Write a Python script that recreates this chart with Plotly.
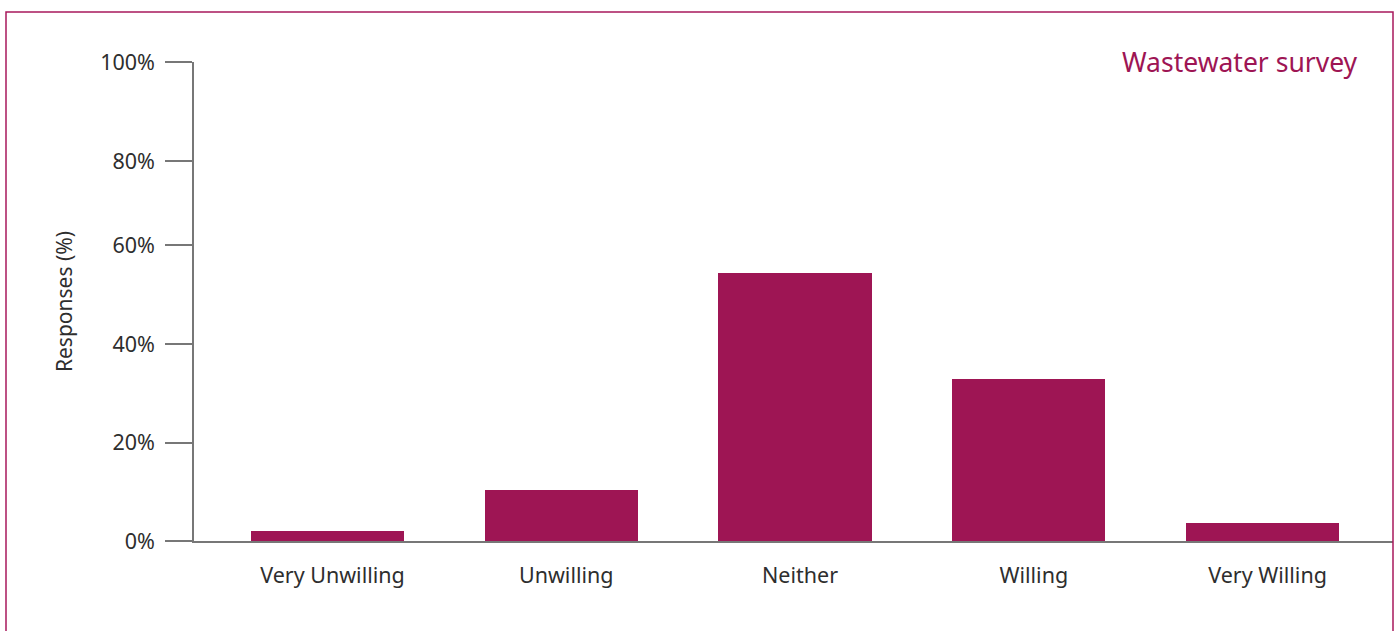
import plotly.graph_objects as go

categories = ["Very Unwilling", "Unwilling", "Neither", "Willing", "Very Willing"]
responses = [2.0, 10.6, 55.9, 33.8, 3.7]
tick_labels = ["0%", "20%", "40%", "60%", "80%", "100%"]
tick_positions = [0, 20.55, 41.13, 61.8, 79.33, 100]

BAR_COLOR = "#9e1554"
TEXT_COLOR = "#2e2e2e"
AXIS_COLOR = "#777777"
FONT = "Noto Sans, Open Sans, sans-serif"

fig = go.Figure()
fig.add_trace(go.Bar(
    x=categories, y=responses, marker_color=BAR_COLOR, width=0.655,
    marker_line_width=0, hoverinfo="x+y",
))

fig.update_layout(
    width=1397, height=631, autosize=False,
    margin=dict(l=194, r=4, t=62, b=90, pad=0),
    paper_bgcolor="white", plot_bgcolor="white",
    font=dict(family=FONT, color=TEXT_COLOR, size=21),
    showlegend=False,
    bargap=0,
)
fig.update_xaxes(
    type="category", range=[-0.571, 4.558],
    showline=True, linecolor=AXIS_COLOR, linewidth=1.5,
    showgrid=False, zeroline=False, ticks="",
    tickfont=dict(size=21.5, color=TEXT_COLOR, family=FONT),
    ticklabelstandoff=14, ticklabelshift=5,
)
fig.update_yaxes(
    range=[0, 100], tickvals=tick_positions, ticktext=tick_labels,
    showline=True, linecolor=AXIS_COLOR, linewidth=1.5,
    ticks="outside", ticklen=27, tickwidth=1.5, tickcolor=AXIS_COLOR,
    showgrid=False, zeroline=False,
    tickfont=dict(size=21.5, color=TEXT_COLOR, family=FONT),
    ticklabelstandoff=6,
    title=dict(text="Responses (%)", font=dict(size=21, color=TEXT_COLOR, family=FONT), standoff=22),
)
fig.add_annotation(
    text="Wastewater survey", xref="paper", yref="paper",
    x=(1360 - 194) / (1397 - 194 - 4), y=1.0, xanchor="right", yanchor="middle",
    showarrow=False, font=dict(size=26.5, color=BAR_COLOR, family=FONT),
)
fig.add_shape(
    type="rect", xref="paper", yref="paper",
    x0=(6 - 194) / (1397 - 194 - 4), x1=(1393 - 194) / (1397 - 194 - 4),
    y0=-0.5, y1=(631 - 90 - 12) / (631 - 62 - 90),
    line=dict(color="#a8185c", width=1.5), fillcolor="rgba(0,0,0,0)", layer="above",
)

fig.write_html("out.html")
